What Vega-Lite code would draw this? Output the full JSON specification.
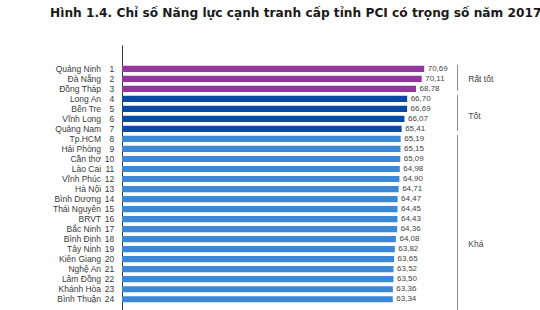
{
  "$schema": "https://vega.github.io/schema/vega-lite/v6.json",
  "autosize": {"type": "none"},
  "padding": {"left": 122, "top": 45, "right": 76, "bottom": 0},
  "width": 342,
  "height": 274.3,
  "background": "white",
  "title": {
    "text": "Hình 1.4. Chỉ số Năng lực cạnh tranh cấp tỉnh PCI có trọng số năm 2017",
    "anchor": "start",
    "frame": "group",
    "dx": -72,
    "offset": 16,
    "baseline": "alphabetic",
    "font": "DejaVu Sans",
    "fontSize": 12.2,
    "fontWeight": "bold",
    "color": "#1a1a1a"
  },
  "config": {
    "view": {"stroke": null},
    "locale": {"number": {"decimal": ",", "thousands": ".", "grouping": [3], "currency": ["", "₫"]}},
    "text": {"font": "Liberation Sans"}
  },
  "datasets": {
    "pci": [
      {"rank": 1, "name": "Quảng Ninh", "pci": 70.69, "tier": "Rất tốt"},
      {"rank": 2, "name": "Đà Nẵng", "pci": 70.11, "tier": "Rất tốt"},
      {"rank": 3, "name": "Đồng Tháp", "pci": 68.78, "tier": "Rất tốt"},
      {"rank": 4, "name": "Long An", "pci": 66.70, "tier": "Tốt"},
      {"rank": 5, "name": "Bến Tre", "pci": 66.69, "tier": "Tốt"},
      {"rank": 6, "name": "Vĩnh Long", "pci": 66.07, "tier": "Tốt"},
      {"rank": 7, "name": "Quảng Nam", "pci": 65.41, "tier": "Tốt"},
      {"rank": 8, "name": "Tp.HCM", "pci": 65.19, "tier": "Khá"},
      {"rank": 9, "name": "Hải Phòng", "pci": 65.15, "tier": "Khá"},
      {"rank": 10, "name": "Cần thơ", "pci": 65.09, "tier": "Khá"},
      {"rank": 11, "name": "Lào Cai", "pci": 64.98, "tier": "Khá"},
      {"rank": 12, "name": "Vĩnh Phúc", "pci": 64.90, "tier": "Khá"},
      {"rank": 13, "name": "Hà Nội", "pci": 64.71, "tier": "Khá"},
      {"rank": 14, "name": "Bình Dương", "pci": 64.47, "tier": "Khá"},
      {"rank": 15, "name": "Thái Nguyên", "pci": 64.45, "tier": "Khá"},
      {"rank": 16, "name": "BRVT", "pci": 64.43, "tier": "Khá"},
      {"rank": 17, "name": "Bắc Ninh", "pci": 64.36, "tier": "Khá"},
      {"rank": 18, "name": "Bình Định", "pci": 64.08, "tier": "Khá"},
      {"rank": 19, "name": "Tây Ninh", "pci": 63.82, "tier": "Khá"},
      {"rank": 20, "name": "Kiên Giang", "pci": 63.65, "tier": "Khá"},
      {"rank": 21, "name": "Nghệ An", "pci": 63.52, "tier": "Khá"},
      {"rank": 22, "name": "Lâm Đồng", "pci": 63.50, "tier": "Khá"},
      {"rank": 23, "name": "Khánh Hòa", "pci": 63.36, "tier": "Khá"},
      {"rank": 24, "name": "Bình Thuận", "pci": 63.34, "tier": "Khá"}
    ],
    "groups": [
      {"group": "Rất tốt", "from": 1, "to": 3, "mid": 2},
      {"group": "Tốt", "from": 4, "to": 7, "mid": 5.7},
      {"group": "Khá", "from": 8, "to": 29, "mid": 18.5}
    ]
  },
  "layer": [
    {
      "data": {"name": "pci"},
      "mark": {"type": "bar", "orient": "horizontal", "size": 6.2},
      "encoding": {
        "y": {"field": "rank", "type": "quantitative", "scale": {"domain": [-0.875, 25.5], "reverse": true, "nice": false, "zero": false},
              "axis": {"labels": false, "ticks": false, "grid": false, "title": null, "domainColor": "#333333", "domainWidth": 1}},
        "x": {"field": "pci", "type": "quantitative", "scale": {"domain": [0, 80], "nice": false}, "axis": null},
        "color": {"field": "tier", "type": "nominal", "scale": {"domain": ["Rất tốt", "Tốt", "Khá"], "range": ["#93379f", "#0b4aa2", "#3b89d6"]}, "legend": null}
      }
    },
    {
      "data": {"name": "pci"},
      "mark": {"type": "text", "align": "left", "baseline": "middle", "dx": 3.5, "fontSize": 8, "color": "#444444"},
      "encoding": {
        "y": {"field": "rank", "type": "quantitative"},
        "x": {"field": "pci", "type": "quantitative"},
        "text": {"field": "pci", "type": "quantitative", "format": ".2f"}
      }
    },
    {
      "data": {"name": "pci"},
      "mark": {"type": "text", "align": "right", "baseline": "middle", "fontSize": 8.5, "color": "#3a3a3a"},
      "encoding": {
        "y": {"field": "rank", "type": "quantitative"},
        "x": {"datum": -4.9, "type": "quantitative"},
        "text": {"field": "name", "type": "nominal"}
      }
    },
    {
      "data": {"name": "pci"},
      "mark": {"type": "text", "align": "right", "baseline": "middle", "fontSize": 8.5, "color": "#3a3a3a"},
      "encoding": {
        "y": {"field": "rank", "type": "quantitative"},
        "x": {"datum": -1.8, "type": "quantitative"},
        "text": {"field": "rank", "type": "nominal"}
      }
    },
    {
      "data": {"name": "groups"},
      "mark": {"type": "rule", "color": "#8a8a8a", "strokeWidth": 1, "yOffset": -4, "y2Offset": 2},
      "encoding": {
        "x": {"datum": 78.5, "type": "quantitative"},
        "y": {"field": "from", "type": "quantitative"},
        "y2": {"field": "to"}
      }
    },
    {
      "data": {"name": "groups"},
      "mark": {"type": "text", "align": "left", "baseline": "middle", "fontSize": 8.5, "color": "#444444"},
      "encoding": {
        "x": {"datum": 81, "type": "quantitative"},
        "y": {"field": "mid", "type": "quantitative"},
        "text": {"field": "group", "type": "nominal"}
      }
    }
  ]
}
